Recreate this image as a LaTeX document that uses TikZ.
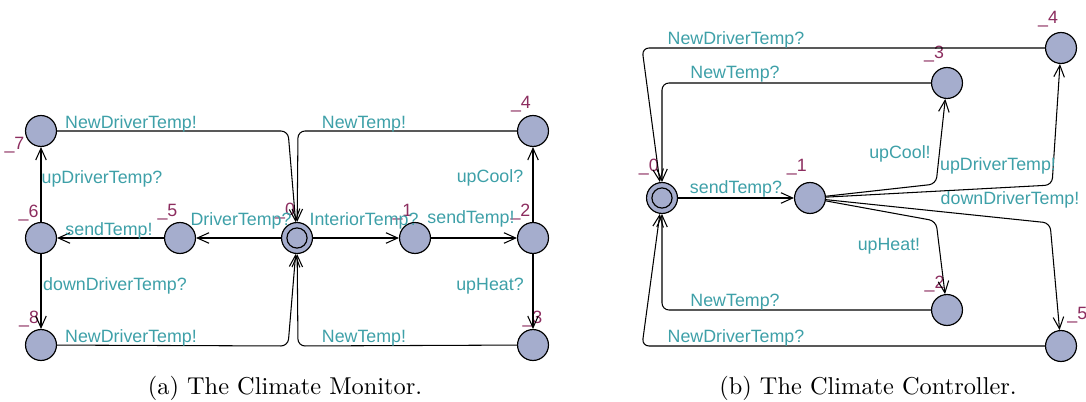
\documentclass[tikz,border=0pt]{standalone}
\usepackage{fontspec}
\newfontfamily\uppaalfont{Liberation Sans}
\usepackage{tikz}
\usetikzlibrary{arrows.meta}
\definecolor{locfill}{RGB}{165,173,205}
\definecolor{actcol}{RGB}{62,160,168}
\definecolor{namecol}{RGB}{140,45,95}

\begin{document}
\begin{tikzpicture} [x = 0.015cm, y = -0.015cm,
    loc/.style = {circle, draw, fill = locfill, line width = 0.5pt, minimum size = 13.2pt, inner sep = 0pt},
    init/.style = {loc, path picture = {\draw [line width = 0.5pt] (path picture bounding box.center) circle (4.3pt);}},
    nm/.style = {text = namecol, inner sep = 0pt, font = \uppaalfont\fontsize{7.6}{9}\selectfont},
    act/.style = {text = actcol, inner sep = 0pt, font = \uppaalfont\fontsize{7.6}{9}\selectfont},
    tr/.style = {-{Straight Barb[length = 5pt, width = 4.5pt]}, line width = 0.45pt, rounded corners = 3pt},
    capt/.style = {inner sep = 0pt, font = \fontsize{10.4}{12}\selectfont}]
                \useasboundingbox (0,0) rectangle (1086,402);
                % (a) the monitor
                \foreach \i/\x/\y/\p/\d in {7/41/131/200/0.5, 6/41/238/97/0.3, 5/180/238/97/0.8, 1/415/238/97/0.8, 2/533/238/97/0.8, 4/533/131/95/1.2, 8/41/345/95/0.5, 3/533/345/92/0.5}
                  \node [loc, label = {[nm, label distance = \d pt]\p:\_\i}] (a\i) at (\x,\y) {};
                \node [init, label = {[nm, label distance = 1pt]95:\_0}] (a0) at (297,238) {};
                \foreach \s/\t in {a0/a5, a5/a6, a6/a7, a6/a8, a0/a1, a1/a2, a2/a4, a2/a3}
                  \draw [tr] (\s) -- (\t);
                \draw [tr] (a7) -- (288,131) -- (a0);
                \draw [tr] (a8) -- (288,346) -- (a0);
                \draw [tr] (a4) -- (298,131) -- (a0);
                \draw [tr] (a3) -- (298,346) -- (a0);
                \foreach \t/\x/\y [count = \k] in {NewDriverTemp!/131/124, upDriverTemp?/102/179, sendTemp!/109/231, DriverTemp?/241/221, downDriverTemp?/115/286, NewDriverTemp!/131/338, InteriorTemp?/364/221, sendTemp!/471/219, upCool?/490/178, upHeat?/490/286, NewTemp!/364/124, NewTemp!/364/338}
                  \node [act] (la\k) at (\x,\y) {\t};
                \node [capt] (capa) at (285,388) {(a) The Climate Monitor.};
                % (b) the controller
                \foreach \i/\x/\y/\p/\d in {1/810/198/97/2.8, 3/947/83/97/2, 4/1061/48/97/2, 2/947/310/97/0.6, 5/1061/346/75/3}
                  \node [loc, label = {[nm, label distance = \d pt]\p:\_\i}] (b\i) at (\x,\y) {};
                \node [init, label = {[nm, label distance = 2.8pt]97:\_0}] (b0) at (662,198) {};
                \draw [tr] (b0) -- (b1);
                \draw [tr] (b1) -- (936,184) -- (b3);
                \draw [tr] (b1) -- (1052,185) -- (b4);
                \draw [tr] (b1) -- (936,221) -- (b2);
                \draw [tr] (b1) -- (1050,223) -- (b5);
                \draw [tr] (b4) -- (642,48) -- (b0);
                \draw [tr] (b3) -- (662,83) -- (b0);
                \draw [tr] (b2) -- (662,310) -- (b0);
                \draw [tr] (b5) -- (642,346) -- (b0);
                \foreach \t/\x/\y [count = \k] in {NewDriverTemp?/736/40, NewTemp?/735/74, sendTemp?/736/189, upCool!/900/154, upDriverTemp!/998/166, downDriverTemp!/1010/200, upHeat!/889/246, NewTemp?/735/302, NewDriverTemp?/736/338}
                  \node [act] (lb\k) at (\x,\y) {\t};
                \node [capt] (capb) at (868,388) {(b) The Climate Controller.};
            \end{tikzpicture}
\end{document}
